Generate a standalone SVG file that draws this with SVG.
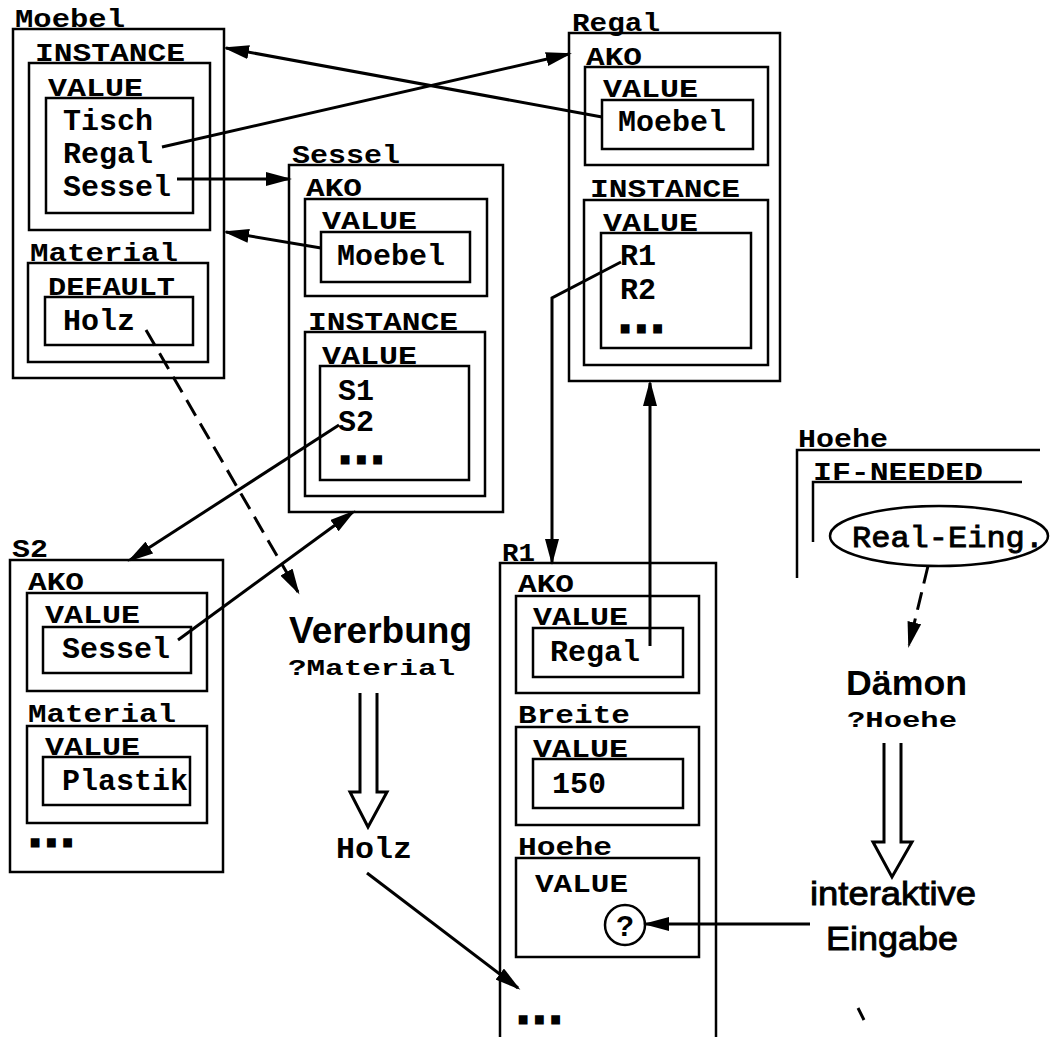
<svg xmlns="http://www.w3.org/2000/svg" width="1051" height="1037" viewBox="0 0 1051 1037">
<style>
.f{fill:none;stroke:#000;stroke-width:2.5}
.c{fill:none;stroke:#000;stroke-width:3}
.d{fill:none;stroke:#000;stroke-width:3;stroke-dasharray:18 9}
.l{font-family:"Liberation Mono",monospace;font-weight:bold;font-size:25px}
.v{font-family:"Liberation Mono",monospace;font-weight:bold;font-size:30px}
.dots{font-family:"Liberation Mono",monospace;font-weight:bold;font-size:27px;stroke:#000;stroke-width:5}
.s{font-family:"Liberation Sans",Arial,sans-serif}
.m{font-family:"Liberation Mono",monospace;font-weight:bold;font-size:22px}
.t{stroke:#000;stroke-width:0.9}
</style>
<defs>
<marker id="ah" viewBox="0 0 26 14" markerWidth="26" markerHeight="14" refX="23" refY="7" orient="auto" markerUnits="userSpaceOnUse">
<path d="M0,0 L26,7 L0,14 z" fill="#000"/>
</marker>
</defs>
<rect width="1051" height="1037" fill="#fff"/>

<g id="moebel">
<rect class="f" x="13" y="29" width="211" height="349"/>
<text class="l" x="15" y="27" textLength="110" lengthAdjust="spacingAndGlyphs">Moebel</text>
<text class="l" x="35" y="61" textLength="150" lengthAdjust="spacingAndGlyphs">INSTANCE</text>
<rect class="f" x="29" y="63" width="181" height="167"/>
<text class="l" x="48" y="96" textLength="95" lengthAdjust="spacingAndGlyphs">VALUE</text>
<rect class="f" x="46" y="98" width="147" height="115"/>
<text class="v" x="63" y="130">Tisch</text>
<text class="v" x="63" y="163">Regal</text>
<text class="v" x="63" y="196">Sessel</text>
<text class="l" x="30" y="261" textLength="148" lengthAdjust="spacingAndGlyphs">Material</text>
<rect class="f" x="28" y="263" width="180" height="99"/>
<text class="l" x="48" y="295" textLength="127" lengthAdjust="spacingAndGlyphs">DEFAULT</text>
<rect class="f" x="45" y="297" width="148" height="48"/>
<text class="v" x="63" y="330">Holz</text>
</g>

<g id="sessel">
<rect class="f" x="289" y="165" width="214" height="347"/>
<text class="l" x="292" y="163" textLength="108" lengthAdjust="spacingAndGlyphs">Sessel</text>
<text class="l" x="306" y="196" textLength="56" lengthAdjust="spacingAndGlyphs">AKO</text>
<rect class="f" x="305" y="199" width="182" height="97"/>
<text class="l" x="322" y="229" textLength="95" lengthAdjust="spacingAndGlyphs">VALUE</text>
<rect class="f" x="321" y="232" width="149" height="50"/>
<text class="v" x="337" y="265">Moebel</text>
<text class="l" x="308" y="330" textLength="150" lengthAdjust="spacingAndGlyphs">INSTANCE</text>
<rect class="f" x="305" y="332" width="180" height="164"/>
<text class="l" x="322" y="364" textLength="95" lengthAdjust="spacingAndGlyphs">VALUE</text>
<rect class="f" x="320" y="366" width="149" height="114"/>
<text class="v" x="338" y="400">S1</text>
<text class="v" x="338" y="431">S2</text>
<text class="dots" x="337" y="462">...</text>
</g>

<g id="regal">
<rect class="f" x="569" y="33" width="211" height="348"/>
<text class="l" x="572" y="31" textLength="88" lengthAdjust="spacingAndGlyphs">Regal</text>
<text class="l" x="586" y="65" textLength="56" lengthAdjust="spacingAndGlyphs">AKO</text>
<rect class="f" x="585" y="67" width="183" height="98"/>
<text class="l" x="603" y="97" textLength="95" lengthAdjust="spacingAndGlyphs">VALUE</text>
<rect class="f" x="602" y="100" width="151" height="49"/>
<text class="v" x="618" y="131">Moebel</text>
<text class="l" x="590" y="197" textLength="150" lengthAdjust="spacingAndGlyphs">INSTANCE</text>
<rect class="f" x="584" y="200" width="184" height="165"/>
<text class="l" x="603" y="231" textLength="95" lengthAdjust="spacingAndGlyphs">VALUE</text>
<rect class="f" x="601" y="233" width="150" height="115"/>
<text class="v" x="620" y="265">R1</text>
<text class="v" x="620" y="299">R2</text>
<text class="dots" x="617" y="331">...</text>
</g>

<g id="s2">
<rect class="f" x="10" y="560" width="213" height="312"/>
<text class="l" x="12" y="557" textLength="36" lengthAdjust="spacingAndGlyphs">S2</text>
<text class="l" x="28" y="590" textLength="56" lengthAdjust="spacingAndGlyphs">AKO</text>
<rect class="f" x="27" y="593" width="180" height="98"/>
<text class="l" x="45" y="623" textLength="95" lengthAdjust="spacingAndGlyphs">VALUE</text>
<rect class="f" x="43" y="627" width="148" height="46"/>
<text class="v" x="62" y="658">Sessel</text>
<text class="l" x="28" y="722" textLength="148" lengthAdjust="spacingAndGlyphs">Material</text>
<rect class="f" x="27" y="726" width="180" height="97"/>
<text class="l" x="45" y="755" textLength="95" lengthAdjust="spacingAndGlyphs">VALUE</text>
<rect class="f" x="43" y="757" width="147" height="48"/>
<text class="v" x="62" y="790">Plastik</text>
<text class="dots" x="27" y="845">...</text>
</g>

<g id="r1">
<rect class="f" x="500" y="563" width="216" height="500"/>
<text class="l" x="502" y="561" textLength="33" lengthAdjust="spacingAndGlyphs">R1</text>
<text class="l" x="518" y="592" textLength="56" lengthAdjust="spacingAndGlyphs">AKO</text>
<rect class="f" x="516" y="596" width="183" height="97"/>
<text class="l" x="533" y="625" textLength="95" lengthAdjust="spacingAndGlyphs">VALUE</text>
<rect class="f" x="533" y="628" width="150" height="49"/>
<text class="v" x="550" y="661">Regal</text>
<text class="l" x="518" y="723" textLength="112" lengthAdjust="spacingAndGlyphs">Breite</text>
<rect class="f" x="516" y="727" width="183" height="98"/>
<text class="l" x="533" y="757" textLength="95" lengthAdjust="spacingAndGlyphs">VALUE</text>
<rect class="f" x="533" y="759" width="150" height="49"/>
<text class="v" x="552" y="793">150</text>
<text class="l" x="518" y="855" textLength="94" lengthAdjust="spacingAndGlyphs">Hoehe</text>
<rect class="f" x="516" y="858" width="183" height="99"/>
<text class="l" x="535" y="892" textLength="93" lengthAdjust="spacingAndGlyphs">VALUE</text>
<circle class="f" cx="625" cy="925" r="20"/>
<text class="s" x="625" y="936" font-size="30" font-weight="bold" text-anchor="middle">?</text>
<text class="dots" x="515" y="1022">...</text>
</g>

<g id="hoehe-daemon">
<text class="l" x="798" y="447" textLength="90" lengthAdjust="spacingAndGlyphs">Hoehe</text>
<path class="f" d="M1040,450 H797 V578"/>
<text class="l" x="813" y="480" textLength="170" lengthAdjust="spacingAndGlyphs">IF-NEEDED</text>
<path class="f" d="M1022,482 H813 V542"/>
<ellipse class="f" cx="939" cy="536" rx="109" ry="30"/>
<text class="t" x="852" y="547" font-size="30" style="font-family:'Liberation Mono',monospace" textLength="192" lengthAdjust="spacingAndGlyphs">Real-Eing.</text>
</g>

<g id="vererbung">
<text class="s" x="289" y="643" font-size="37" font-weight="bold" textLength="183" lengthAdjust="spacingAndGlyphs">Vererbung</text>
<text class="m" x="288" y="675" textLength="167" lengthAdjust="spacingAndGlyphs">?Material</text>
<path class="c" d="M360,693 V792 H350 L368,827 L387,792 H377 V693"/>
<text class="v" x="336" y="858" textLength="76" lengthAdjust="spacingAndGlyphs">Holz</text>
</g>

<g id="daemon">
<text class="s" x="846" y="695" font-size="35" font-weight="bold" textLength="121" lengthAdjust="spacingAndGlyphs">Dämon</text>
<text class="m" x="847" y="727" textLength="110" lengthAdjust="spacingAndGlyphs">?Hoehe</text>
<path class="c" d="M884,743 V842 H873 L892,877 L912,842 H901 V743"/>
<text class="s t" x="810" y="905" font-size="34" textLength="166" lengthAdjust="spacingAndGlyphs">interaktive</text>
<text class="s t" x="826" y="950" font-size="34" textLength="132" lengthAdjust="spacingAndGlyphs">Eingabe</text>
</g>

<g id="connectors">
<line class="c" x1="602" y1="117" x2="226" y2="48" marker-end="url(#ah)"/>
<line class="c" x1="162" y1="147" x2="569" y2="54" marker-end="url(#ah)"/>
<line class="c" x1="177" y1="179" x2="289" y2="179" marker-end="url(#ah)"/>
<line class="c" x1="321" y1="248" x2="226" y2="232" marker-end="url(#ah)"/>
<line class="c" x1="339" y1="425" x2="130" y2="560" marker-end="url(#ah)"/>
<line class="c" x1="178" y1="640" x2="353" y2="512" marker-end="url(#ah)"/>
<polyline class="c" points="621,262 552,298 552,562" marker-end="url(#ah)"/>
<line class="c" x1="650" y1="646" x2="650" y2="383" marker-end="url(#ah)"/>
<line class="d" x1="146" y1="330" x2="298" y2="592" marker-end="url(#ah)"/>
<line class="c" x1="367" y1="873" x2="518" y2="988" marker-end="url(#ah)"/>
<line class="d" x1="928" y1="566" x2="909" y2="645" stroke-dasharray="14 8" marker-end="url(#ah)"/>
<line class="c" x1="810" y1="924" x2="646" y2="924" marker-end="url(#ah)"/>
<line class="c" x1="858" y1="1008" x2="864" y2="1020" stroke-width="2"/>
</g>
</svg>
